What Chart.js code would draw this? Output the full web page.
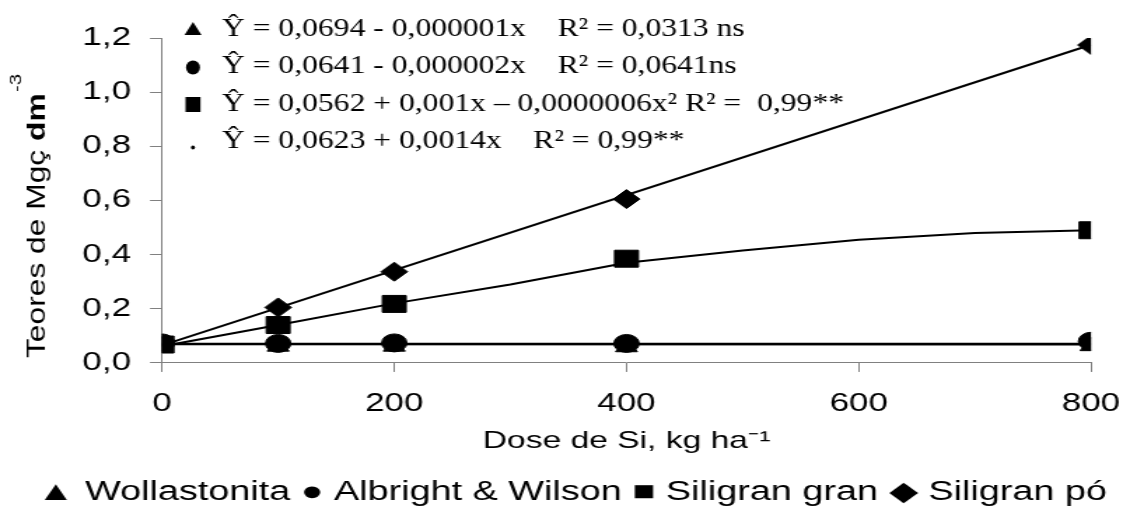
<!DOCTYPE html>
<html>
<head>
<meta charset="utf-8">
<script src="https://cdn.jsdelivr.net/npm/chart.js@4.4.1/dist/chart.umd.min.js"></script>
<style>
  html, body { margin: 0; padding: 0; background: #fff; }
</style>
</head>
<body>
<!-- the original figure is stretched sideways, so the canvas is drawn narrow and widened -->
<canvas id="grafico" width="817" height="521" style="display:block;width:1144px;height:521px"></canvas>
<script>
// doses de Si (kg/ha)
var doses = [0, 100, 200, 400, 800];
// teores medidos
var wollastonita = [0.062, 0.060, 0.060, 0.058, 0.062];
var albright = [0.074, 0.072, 0.074, 0.072, 0.080];
var siligranGran = [0.068, 0.140, 0.218, 0.385, 0.490];
var siligranPo = [0.072, 0.205, 0.337, 0.605, 1.174];

// linhas de tendencia
var doseCurva = [0, 100, 200, 300, 400, 500, 600, 700, 800];
var curvaGran = [0.062, 0.140, 0.220, 0.290, 0.370, 0.415, 0.455, 0.480, 0.490];
var doseReta = [0, 800];
var retaPo = [0.065, 1.175];
var retaWoll = [0.069, 0.068];
var retaAlb = [0.071, 0.071];

var xTickLabels = ['0', '200', '400', '600', '800'];
var yTickLabels = ['0,0', '0,2', '0,4', '0,6', '0,8', '1,0', '1,2'];

var equacoes = [
  'Ŷ = 0,0694 - 0,000001x    R² = 0,0313 ns',
  'Ŷ = 0,0641 - 0,000002x    R² = 0,0641ns',
  'Ŷ = 0,0562 + 0,001x – 0,0000006x² R² =  0,99**',
  'Ŷ = 0,0623 + 0,0014x    R² = 0,99**'
];
var legenda = '▲ Wollastonita ● Albright & Wilson ■ Siligran gran ◆ Siligran pó';

var K = 1144 / 817; // esticamento horizontal

function pts(xs, ys) {
  return xs.map(function (x, i) { return { x: x, y: ys[i] }; });
}

Chart.defaults.font.family = "'Liberation Sans', Arial, sans-serif";
Chart.defaults.color = '#000';

var textos = {
  id: 'textos',
  afterDraw: function (chart) {
    var ctx = chart.ctx;
    ctx.save();
    ctx.fillStyle = '#000';

    // equacoes no canto superior
    var linhaY = [29, 66.5, 104, 141.5];
    var mx = 193 / K;
    ctx.font = "26px 'Liberation Serif', 'Times New Roman', serif";
    ctx.textBaseline = 'middle';
    ctx.textAlign = 'left';
    for (var i = 0; i < equacoes.length; i++) {
      var y = linhaY[i];
      ctx.beginPath();
      if (i === 0) {
        ctx.moveTo(mx, y - 7);
        ctx.lineTo(mx + 8.5 / K, y + 6);
        ctx.lineTo(mx - 8.5 / K, y + 6);
        ctx.closePath();
      } else if (i === 1) {
        ctx.ellipse(mx, y + 1, 7 / K, 7, 0, 0, Math.PI * 2);
      } else if (i === 2) {
        ctx.rect(mx - 7.5 / K, y - 7, 15 / K, 15);
      } else {
        ctx.ellipse(mx, y + 6, 2 / K, 2, 0, 0, Math.PI * 2);
      }
      ctx.fill();
      ctx.save();
      ctx.translate(222 / K, y);
      ctx.scale(0.868, 1);
      ctx.fillText(equacoes[i], 0, 0);
      ctx.restore();
    }

    // titulo do eixo y
    ctx.save();
    ctx.translate(45 / K, 358);
    ctx.rotate(-Math.PI / 2);
    ctx.scale(1.27, 1 / K);
    ctx.textBaseline = 'alphabetic';
    ctx.font = "25px 'Liberation Sans', Arial, sans-serif";
    var t1 = 'Teores de Mgç ';
    ctx.fillText(t1, 0, 0);
    var w = ctx.measureText(t1).width;
    ctx.font = "bold 25px 'Liberation Sans', Arial, sans-serif";
    ctx.fillText('dm', w, 0);
    w += ctx.measureText('dm').width;
    ctx.font = "16px 'Liberation Sans', Arial, sans-serif";
    ctx.fillText('-3', w + 1, -24);
    ctx.restore();

    ctx.restore();
  }
};

var pontoBase = {
  showLine: false,
  backgroundColor: '#000',
  borderColor: '#000',
  pointBorderWidth: 1,
  order: 0
};
var linhaBase = {
  showLine: true,
  pointRadius: 0,
  borderColor: '#000',
  borderWidth: 2,
  fill: false,
  order: 1
};

new Chart(document.getElementById('grafico').getContext('2d'), {
  type: 'scatter',
  data: {
    datasets: [
      Object.assign({}, linhaBase, { label: 'tend Wollastonita', data: pts(doseReta, retaWoll) }),
      Object.assign({}, linhaBase, { label: 'tend Albright', data: pts(doseReta, retaAlb) }),
      Object.assign({}, linhaBase, { label: 'tend Siligran gran', data: pts(doseCurva, curvaGran) }),
      Object.assign({}, linhaBase, { label: 'tend Siligran pó', data: pts(doseReta, retaPo) }),
      Object.assign({}, pontoBase, { label: 'Wollastonita', data: pts(doses, wollastonita), pointStyle: 'triangle', pointRadius: 9 }),
      Object.assign({}, pontoBase, { label: 'Albright & Wilson', data: pts(doses, albright), pointStyle: 'circle', pointRadius: 9 }),
      Object.assign({}, pontoBase, { label: 'Siligran gran', data: pts(doses, siligranGran), pointStyle: 'rect', pointRadius: 12 }),
      Object.assign({}, pontoBase, { label: 'Siligran pó', data: pts(doses, siligranPo), pointStyle: 'rectRot', pointRadius: 9.5 })
    ]
  },
  options: {
    responsive: false,
    devicePixelRatio: 1,
    animation: false,
    layout: { padding: { top: 38, right: 0, bottom: 0, left: 0 } },
    plugins: {
      legend: { display: false },
      tooltip: { enabled: false },
      title: {
        display: true,
        position: 'bottom',
        text: legenda,
        color: '#000',
        font: { size: 27, weight: 'normal', lineHeight: 1.15 },
        padding: { top: 0, bottom: 13 }
      }
    },
    scales: {
      x: {
        type: 'linear',
        min: 0,
        max: 800,
        ticks: {
          stepSize: 200,
          padding: 17,
          font: { size: 25 },
          callback: function (v, i) { return xTickLabels[i]; }
        },
        grid: { drawOnChartArea: false, tickLength: 9, color: '#808080' },
        border: { color: '#808080', width: 1 },
        title: {
          display: true,
          text: 'Dose de Si, kg ha⁻¹',
          font: { size: 24 },
          padding: { top: 0, bottom: 21 }
        },
        afterFit: function (s) { s.height = 114; }
      },
      y: {
        min: 0,
        max: 1.2,
        ticks: {
          stepSize: 0.2,
          padding: 13.5,
          font: { size: 25 },
          callback: function (v, i) { return yTickLabels[i]; }
        },
        grid: { drawOnChartArea: false, tickLength: 8.6, color: '#808080' },
        border: { color: '#808080', width: 1 },
        afterFit: function (s) { s.width = 115.7; }
      },
      margem: {
        type: 'linear',
        position: 'right',
        grid: { display: false },
        border: { display: false },
        ticks: { display: false },
        afterFit: function (s) { s.width = 29.3; }
      }
    }
  },
  plugins: [textos]
});
</script>
</body>
</html>
